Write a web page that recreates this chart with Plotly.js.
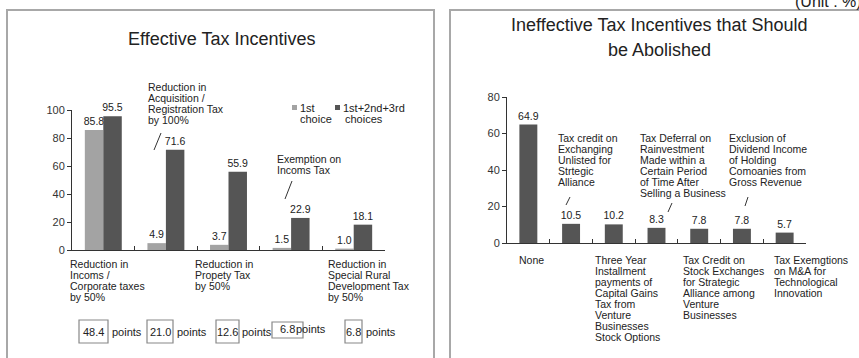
<!DOCTYPE html>
<html><head><meta charset="utf-8">
<script src="https://cdn.plot.ly/plotly-3.0.1.min.js"></script>
<style>html,body{margin:0;padding:0;background:#fff}#chart{width:859px;height:358px}</style>
</head><body><div id="chart"></div>
<script>
// ---------- DATA ----------
const effLabelLines = [
  ['Reduction in', 'Incoms /', 'Corporate taxes', 'by 50%'],
  ['Reduction in', 'Acquisition /', 'Registration Tax', 'by 100%'],
  ['Reduction in', 'Propety Tax', 'by 50%'],
  ['Exemption on', 'Incoms Tax'],
  ['Reduction in', 'Special Rural', 'Development Tax', 'by 50%']
];
const effCategories = effLabelLines.map(l => l.join(' '));
const firstChoice = [85.8, 4.9, 3.7, 1.5, 1.0];
const topThreeChoices = [95.5, 71.6, 55.9, 22.9, 18.1];
const effPoints = ['48.4', '21.0', '12.6', '6.8', '6.8'];
const effTicks = [0, 20, 40, 60, 80, 100];

const ineffLabelLines = [
  ['None'],
  ['Tax credit on', 'Exchanging', 'Unlisted for', 'Strtegic', 'Alliance'],
  ['Three Year', 'Installment', 'payments of', 'Capital Gains', 'Tax from', 'Venture', 'Businesses', 'Stock Options'],
  ['Tax Deferral on', 'Rainvestment', 'Made within a', 'Certain Period', 'of Time After', 'Selling a Business'],
  ['Tax Credit on', 'Stock Exchanges', 'for Strategic', 'Alliance among', 'Venture', 'Businesses'],
  ['Exclusion of', 'Dividend Income', 'of Holding', 'Comoanies from', 'Gross Revenue'],
  ['Tax Exemgtions', 'on M&A for', 'Technological', 'Innovation']
];
const ineffCategories = ineffLabelLines.map(l => l.join(' '));
const ineffValues = [64.9, 10.5, 10.2, 8.3, 7.8, 7.8, 5.7];
const ineffTicks = [0, 20, 40, 60, 80];

const leftTitle = 'Effective Tax Incentives';
const rightTitleLines = ['Ineffective Tax Incentives that Should', 'be Abolished'];
const legendNames = [['1st', 'choice'], ['1st+2nd+3rd', 'choices']];
const unitText = '(Unit : %)';

// ---------- LAYOUT HELPERS ----------
const W = 859, H = 358;
const px = x => x / W;
const py = y => 1 - y / H;
const FONT = '"Liberation Sans", Arial, sans-serif';
const TXT = '#222';
const LIGHT = '#a3a3a3', DARK = '#555555';
const LBL = 10.5;

const annotations = [];
const shapes = [];
function textBlock(lines, x, yFirst, opts = {}) {
  const step = opts.step || 11;
  lines.forEach((t, i) => {
    annotations.push({
      xref: 'paper', yref: 'paper', x: px(x), y: py(yFirst + i * step),
      xanchor: opts.xanchor || 'left', yanchor: 'middle', showarrow: false, text: t,
      font: {family: FONT, size: opts.size || LBL, color: opts.color || TXT}
    });
  });
}
function slash(x0, y0, x1, y1) {
  shapes.push({type: 'line', xref: 'paper', yref: 'paper', x0: px(x0), y0: py(y0), x1: px(x1), y1: py(y1),
    line: {color: '#333', width: 1}});
}

// panel borders
shapes.push({type: 'path', xref: 'paper', yref: 'paper',
  path: `M ${px(7)} ${py(370)} L ${px(7)} ${py(10)} L ${px(434)} ${py(10)} L ${px(434)} ${py(370)}`,
  line: {color: '#a8a8a8', width: 2}});
shapes.push({type: 'path', xref: 'paper', yref: 'paper',
  path: `M ${px(450)} ${py(370)} L ${px(450)} ${py(10)} L ${px(870)} ${py(10)}`,
  line: {color: '#a8a8a8', width: 2}});

// titles
textBlock([leftTitle], 221, 39, {xanchor: 'center', size: 18, step: 25});
textBlock(rightTitleLines, 659, 25, {xanchor: 'center', size: 18, step: 25});
textBlock([unitText], 793, 1, {size: 16});

// left category labels
textBlock(effLabelLines[0], 68, 264);
textBlock(effLabelLines[1], 146, 87);
textBlock(effLabelLines[2], 193, 264);
textBlock(effLabelLines[3], 275, 159);
textBlock(effLabelLines[4], 326, 264);
slash(154, 150, 161, 133);
slash(285, 199, 292, 181);

// legend
const legendPos = [[292, 298], [335, 341]];
[LIGHT, DARK].forEach((c, i) => {
  shapes.push({type: 'rect', xref: 'paper', yref: 'paper',
    x0: px(legendPos[i][0]), x1: px(legendPos[i][0] + 5), y0: py(110), y1: py(105),
    fillcolor: c, line: {width: 0}});
  textBlock([legendNames[i][0]], legendPos[i][1], 108, {size: 11});
  textBlock([legendNames[i][1]], legendPos[i][1] + (i ? 2 : 0), 119, {size: 11});
});

// points boxes
const boxPos = [[79, 108, 320, 343], [147, 173, 320, 343], [216, 239, 320, 343], [272, 303, 322, 338], [345, 362, 320, 343]];
const pointsX = [110, 175, 240, 294, 364];
effPoints.forEach((p, i) => {
  const b = boxPos[i];
  shapes.push({type: 'rect', xref: 'paper', yref: 'paper', x0: px(b[0]), x1: px(b[1]), y0: py(b[3]), y1: py(b[2]),
    line: {color: '#888', width: 1.2}});
  textBlock([p], (b[0] + b[1]) / 2, i === 3 ? 329 : 332, {xanchor: 'center', size: 11});
  textBlock(['points'], pointsX[i], i === 3 ? 329 : 332, {size: 11});
});

// right category labels
textBlock(ineffLabelLines[0], 517, 260);
textBlock(ineffLabelLines[1], 556, 138);
textBlock(ineffLabelLines[2], 593, 260);
textBlock(ineffLabelLines[3], 638, 138);
textBlock(ineffLabelLines[4], 681, 260);
textBlock(ineffLabelLines[5], 727, 138);
textBlock(ineffLabelLines[6], 772, 260);
slash(566, 205, 570, 197);
slash(668, 212, 672, 203);
slash(745, 206, 748, 197);

// ---------- TRACES ----------
const barText = {family: FONT, size: 10.5, color: TXT};
const common = {type: 'bar', textposition: 'outside', textfont: barText, cliponaxis: false,
  constraintext: 'none', hoverinfo: 'skip'};
const traces = [
  Object.assign({}, common, {x: effCategories, y: firstChoice, name: legendNames[0].join(' '), xaxis: 'x', yaxis: 'y',
   marker: {color: LIGHT}, text: firstChoice.map(v => v.toFixed(1))}),
  Object.assign({}, common, {x: effCategories, y: topThreeChoices, name: legendNames[1].join(' '), xaxis: 'x', yaxis: 'y',
   marker: {color: DARK}, text: topThreeChoices.map(v => v.toFixed(1))}),
  Object.assign({}, common, {x: ineffCategories, y: ineffValues, xaxis: 'x2', yaxis: 'y2',
   marker: {color: DARK}, text: ineffValues.map(v => v.toFixed(1)), width: 0.42})
];

const xCommon = {type: 'category', showticklabels: false, ticks: 'inside', ticklen: 4, tickcolor: '#333',
  tickson: 'boundaries', showline: true, linecolor: '#333', linewidth: 1, showgrid: false, zeroline: false, fixedrange: true};
const yCommon = {ticks: 'outside', ticklen: 4, tickcolor: '#333', showline: true, linecolor: '#333', linewidth: 1,
  showgrid: false, zeroline: false, tickfont: {family: FONT, size: 11, color: '#333'}, fixedrange: true};

const layout = {
  width: W, height: H, margin: {l: 0, r: 0, t: 0, b: 0}, paper_bgcolor: '#fff', plot_bgcolor: 'rgba(0,0,0,0)',
  showlegend: false, barmode: 'group', bargap: 0.41, bargroupgap: 0,
  xaxis: Object.assign({}, xCommon, {domain: [px(72), px(385)], anchor: 'y'}),
  yaxis: Object.assign({}, yCommon, {domain: [py(250), py(110)], range: [0, 100], tickvals: effTicks, anchor: 'x'}),
  xaxis2: Object.assign({}, xCommon, {domain: [px(507), px(806)], anchor: 'y2'}),
  yaxis2: Object.assign({}, yCommon, {domain: [py(243), py(97)], range: [0, 80], tickvals: ineffTicks, anchor: 'x2'}),
  annotations: annotations, shapes: shapes
};

Plotly.newPlot('chart', traces, layout, {displayModeBar: false, staticPlot: true});
</script>
</body></html>
